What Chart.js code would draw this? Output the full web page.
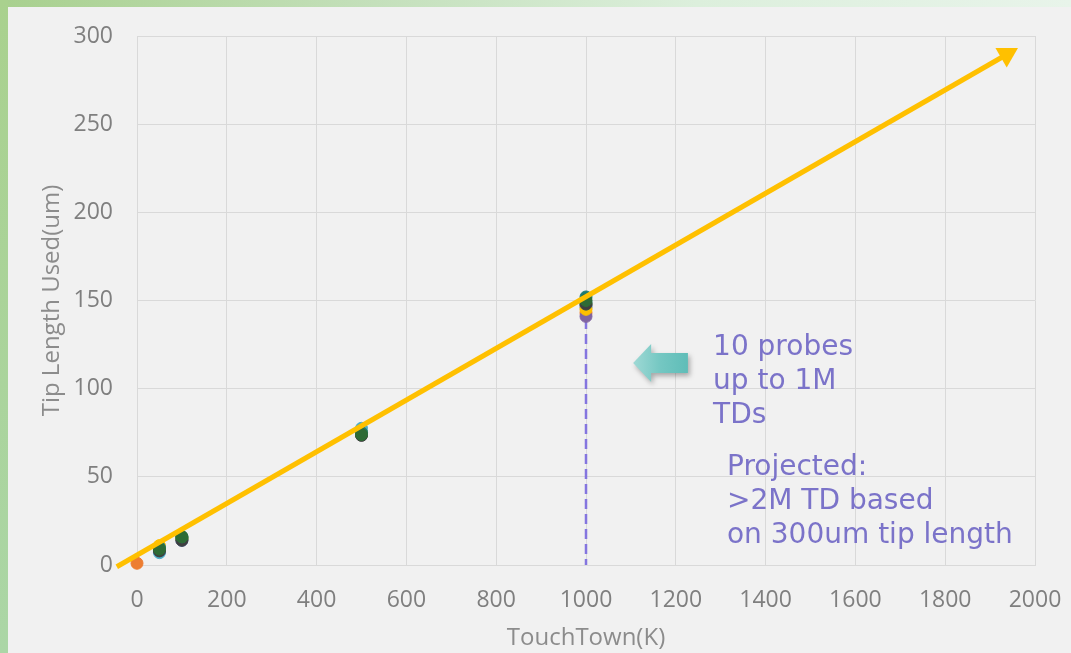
<!DOCTYPE html>
<html>
<head>
<meta charset="utf-8">
<script src="https://cdn.jsdelivr.net/npm/chart.js@4.4.1/dist/chart.umd.min.js"></script>
<style>
  html, body { margin: 0; padding: 0; }
  body { width: 1071px; height: 653px; position: relative; background: #f1f1f1; overflow: hidden; }
  #topband { position: absolute; left: 0; top: 0; width: 1071px; height: 7px;
             background: linear-gradient(to right, #a8d08e 0%, #c4e0bb 35%, #dcefdc 65%, #e8f4ea 100%); }
  #leftband { position: absolute; left: 0; top: 0; width: 8px; height: 653px;
              background: linear-gradient(to bottom, #a9d18e 0%, #abd6a6 100%); }
  #wrap { position: absolute; left: 0; top: 0; width: 1071px; height: 653px; }
</style>
</head>
<body>
<div id="topband"></div>
<div id="leftband"></div>
<div id="wrap"><canvas id="c" width="1071" height="653"></canvas></div>
<script>
// Touchdown counts (thousands) at which tip wear was measured
const touchdowns = [0, 50, 100, 500, 1000];

// Tip length used (um) for each of the 10 probes (drawing order: first is bottom)
const probeNames = ['Probe 1','Probe 2','Probe 3','Probe 4','Probe 5','Probe 6','Probe 7','Probe 8','Probe 9','Probe 10'];
const probeColors = ['#A5A5A5','#4472C4','#ED7D31','#8064A2','#FFC000','#4BACC6','#70AD47','#3F3F3F','#1E7B73','#2E6B35'];
const probe1  = [null, 9, 15, 75, 146];
const probe2  = [null, 8, 14, 75, 147];
const probe3  = [1, 8, 15, 74, 143];
const probe4  = [null, 8, 15, 74, 141];
const probe5  = [null, 11, 15, 75, 145];
const probe6  = [null, 7, 15, 77.5, 149];
const probe7  = [null, 9, 15, 75, 148];
const probe8  = [null, 8, 14, 73.5, 148];
const probe9  = [null, 10, 16, 75, 152];
const probe10 = [null, 9, 16, 74, 150];
const probeValues = [probe1, probe2, probe3, probe4, probe5, probe6, probe7, probe8, probe9, probe10];

// Projected wear trend (start and arrow end)
const trendX = [-45, 1937];
const trendY = [-1, 289.5];

// Marker for the 1M touchdown limit of the measurements
const limitX = [1000, 1000];
const limitY = [148, 0];

// Axis ticks
const xTicks = [0, 200, 400, 600, 800, 1000, 1200, 1400, 1600, 1800, 2000];
const yTicks = [0, 50, 100, 150, 200, 250, 300];

// Callout texts
const calloutLines = ['10 probes', 'up to 1M', 'TDs'];
const projectionLines = ['Projected:', '>2M TD based', 'on 300um tip length'];

const toPoints = (xs, ys) => xs.map((x, i) => ({ x: x, y: ys[i] }));

const datasets = [];
// trend line on top
datasets.push({
  type: 'line',
  label: 'Trend',
  data: toPoints(trendX, trendY),
  borderColor: '#FFC000',
  backgroundColor: '#FFC000',
  borderWidth: 5,
  pointRadius: [0, 13],
  pointStyle: 'triangle',
  pointRotation: 60,
  pointBorderWidth: 0,
  pointBackgroundColor: '#FFC000',
  clip: false,
  order: 0
});
// probes, later ones drawn on top
probeValues.forEach((vals, i) => {
  datasets.push({
    type: 'scatter',
    label: probeNames[i],
    data: toPoints(touchdowns, vals),
    backgroundColor: probeColors[i],
    borderColor: probeColors[i],
    borderWidth: 1,
    pointRadius: 6,
    clip: false,
    order: 20 - i
  });
});
// dashed marker below everything
datasets.push({
  type: 'line',
  label: 'Limit',
  data: toPoints(limitX, limitY),
  borderColor: '#8475DF',
  borderWidth: 2.5,
  borderDash: [10, 5],
  pointRadius: 0,
  order: 30
});

const calloutPlugin = {
  id: 'callouts',
  afterDraw(chart) {
    const { ctx, scales } = chart;
    const xs = scales.x, ys = scales.y;

    // teal block arrow pointing back to the 1M measurements
    const tipX = xs.getPixelForValue(1105), tipY = ys.getPixelForValue(114.6);
    const tailX = xs.getPixelForValue(1227);
    const headX = tipX + 18;
    ctx.save();
    const g = ctx.createLinearGradient(tipX, 0, tailX, 0);
    g.addColorStop(0, '#9fd9d5');
    g.addColorStop(0.5, '#74c7c2');
    g.addColorStop(1, '#5fbdb8');
    ctx.fillStyle = g;
    ctx.shadowColor = 'rgba(0,0,0,0.3)';
    ctx.shadowBlur = 5;
    ctx.shadowOffsetX = 2;
    ctx.shadowOffsetY = 3;
    ctx.beginPath();
    ctx.moveTo(tipX, tipY);
    ctx.lineTo(headX, tipY - 19);
    ctx.lineTo(headX, tipY - 10);
    ctx.lineTo(tailX, tipY - 10);
    ctx.lineTo(tailX, tipY + 10);
    ctx.lineTo(headX, tipY + 10);
    ctx.lineTo(headX, tipY + 19);
    ctx.closePath();
    ctx.fill();
    ctx.restore();

    // callout texts
    ctx.save();
    ctx.fillStyle = '#7B73C9';
    ctx.font = '28px "DejaVu Sans"';
    ctx.textBaseline = 'alphabetic';
    ctx.textAlign = 'left';
    const x1 = xs.getPixelForValue(1283), y1 = ys.getPixelForValue(119.1);
    calloutLines.forEach((t, i) => ctx.fillText(t, x1, y1 + i * 34));
    const x2 = xs.getPixelForValue(1314), y2 = ys.getPixelForValue(51.0);
    projectionLines.forEach((t, i) => ctx.fillText(t, x2, y2 + i * 34));
    ctx.restore();
  }
};

const plainNumber = (v) => String(v);

new Chart(document.getElementById('c'), {
  type: 'scatter',
  data: { datasets: datasets },
  options: {
    responsive: false,
    animation: false,
    devicePixelRatio: 1,
    layout: { autoPadding: false, padding: { left: 34, right: 36, top: 36, bottom: 0 } },
    plugins: { legend: { display: false }, tooltip: { enabled: false } },
    scales: {
      x: {
        type: 'linear',
        min: 0, max: 2000,
        afterBuildTicks(scale) { scale.ticks = xTicks.map(v => ({ value: v })); },
        afterFit(scale) { scale.height = 88; scale.paddingLeft = 0; scale.paddingRight = 0; },
        grid: { color: '#d9d9d9', lineWidth: 1, drawTicks: false },
        border: { color: '#d9d9d9' },
        ticks: { color: '#7f7f7f', font: { family: 'Open Sans', size: 23 }, padding: 22, maxRotation: 0,
                 autoSkip: false, callback: plainNumber },
        title: { display: true, text: 'TouchTown(K)', color: '#8c8c8c',
                 font: { family: 'Open Sans', size: 24 }, padding: { top: 4, bottom: 0 } }
      },
      y: {
        type: 'linear',
        min: 0, max: 300,
        afterBuildTicks(scale) { scale.ticks = yTicks.map(v => ({ value: v })); },
        afterFit(scale) { scale.width = 103; scale.paddingTop = 0; scale.paddingBottom = 0; },
        grid: { color: '#d9d9d9', lineWidth: 1, drawTicks: false },
        border: { color: '#d9d9d9' },
        ticks: { color: '#7f7f7f', font: { family: 'Open Sans', size: 23 }, padding: 24, callback: plainNumber },
        title: { display: true, text: 'Tip Length Used(um)', color: '#8c8c8c',
                 font: { family: 'Open Sans', size: 24 }, padding: { top: 4, bottom: 4 } }
      }
    }
  },
  plugins: [calloutPlugin]
});
</script>
</body>
</html>
